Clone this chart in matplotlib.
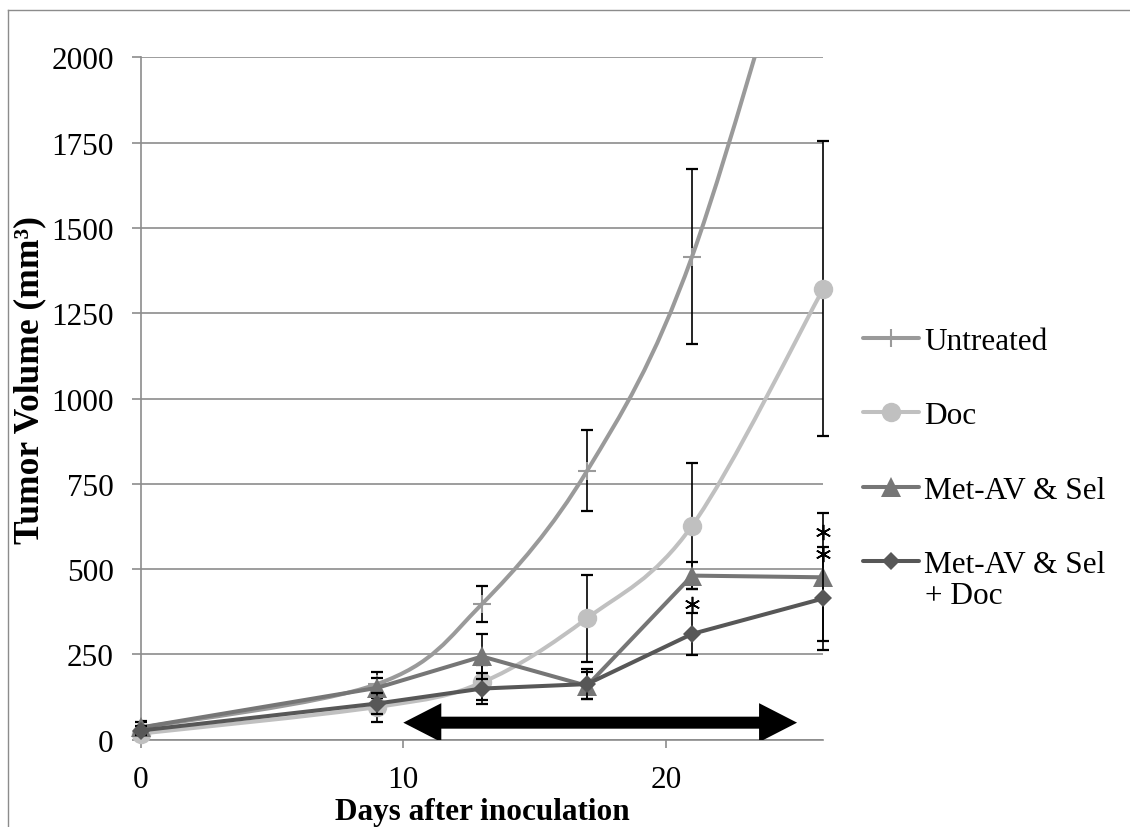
import numpy as np
import matplotlib.pyplot as plt
from matplotlib.path import Path
from matplotlib.patches import PathPatch, Polygon
from matplotlib.lines import Line2D
from matplotlib.transforms import IdentityTransform

plt.rcParams['font.family'] = ['Liberation Serif', 'DejaVu Serif']

# days after inoculation and mean tumour volume (mm3) with error values
days = [0, 9, 13, 17, 21, 26]

untreated = [35, 163, 398, 788, 1416, 2700]
untreated_err = [20, 35, 53, 119, 256, 400]
doc = [18, 96, 168, 356, 627, 1322]
doc_err = [10, 43, 51, 127, 184, 432]
metav_sel = [36, 152, 244, 158, 481, 476]
metav_sel_err = [15, 30, 66, 40, 40, 188]
metav_sel_doc = [27, 106, 150, 163, 310, 414]
metav_sel_doc_err = [12, 30, 45, 44, 62, 152]

labels = ["Untreated", "Doc", "Met-AV & Sel", "Met-AV & Sel"]
last_label_tail = "+ Doc"

# significance marks
sig_days = [21, 26, 26]
sig_vals = [398, 608, 544]

# treatment window
treat_start, treat_end, treat_level = 10, 25, 50

GRID = "#8c8c8c"
FS = 22.5


def smooth_path(x, y):
    # bezier curve through the points, like a spreadsheet "smoothed line"
    pts = np.column_stack([x, y]).astype(float)
    n = len(pts)
    verts = [pts[0]]
    codes = [Path.MOVETO]
    for i in range(n - 1):
        p0 = pts[max(i - 1, 0)]
        p1 = pts[i]
        p2 = pts[i + 1]
        p3 = pts[min(i + 2, n - 1)]
        verts += [p1 + (p2 - p0) / 6, p2 - (p3 - p1) / 6, p2]
        codes += [Path.CURVE4] * 3
    return Path(verts, codes)


fig = plt.figure(figsize=(11.3, 8.28), dpi=100)
ax = fig.add_axes([0.1246, 0.1054, 0.604, 0.8242])

series = [
    (untreated, untreated_err, "#9a9a9a", "+", 13, True, True),
    (doc, doc_err, "#c0c0c0", "o", 14, True, False),
    (metav_sel, metav_sel_err, "#767676", "^", 14, False, False),
    (metav_sel_doc, metav_sel_doc_err, "#575757", "D", 9.5, False, False),
]

handles = []
for k, (vals, err, col, mk, ms, smooth, clip) in enumerate(series):
    z = 3 + 3 * k
    ax.errorbar(days, vals, yerr=err, fmt="none", ecolor="black", elinewidth=1.2,
                capsize=4.3, capthick=1.6, zorder=z, clip_on=clip)
    if smooth:
        ax.add_patch(PathPatch(smooth_path(days, vals), fill=False, edgecolor=col,
                               lw=2.9, zorder=z + 1, capstyle="round"))
    else:
        ax.plot(days, vals, color=col, lw=2.9, zorder=z + 1, clip_on=clip,
                solid_capstyle="round")
    mew = 1.5 if mk == "+" else 0
    ax.plot(days, vals, ls="none", marker=mk, ms=ms, color=col, mew=mew,
            zorder=z + 2, clip_on=clip)
    handles.append(Line2D([], [], color=col, lw=2.9, marker=mk, ms=ms, mew=mew,
                          solid_capstyle="round"))

ax.plot(sig_days, sig_vals, ls="none", marker=(6, 2, 0), ms=11, mew=1.2,
        color="black", zorder=20, clip_on=False)

ax.set_xlim(0, 26)
ax.set_ylim(0, 2000)

# double-headed arrow over the treatment period, built in pixels so the
# heads keep their shape
x0, y0 = ax.transData.transform((treat_start, treat_level))
x1, _ = ax.transData.transform((treat_end, treat_level))
hl, hw, sw = 38, 19.5, 6
arrow = [(x0, y0), (x0 + hl, y0 + hw), (x0 + hl, y0 + sw), (x1 - hl, y0 + sw),
         (x1 - hl, y0 + hw), (x1, y0), (x1 - hl, y0 - hw), (x1 - hl, y0 - sw),
         (x0 + hl, y0 - sw), (x0 + hl, y0 - hw)]
ax.add_patch(Polygon(arrow, closed=True, transform=IdentityTransform(),
                     facecolor="black", edgecolor="none", zorder=25))

ax.set_xticks([0, 10, 20])
ax.set_yticks(np.arange(0, 2001, 250))
ax.yaxis.grid(True, color=GRID, lw=1.2)
ax.set_axisbelow(True)
for s in ["top", "right"]:
    ax.spines[s].set_visible(False)
for s in ["left", "bottom"]:
    ax.spines[s].set_color(GRID)
    ax.spines[s].set_linewidth(1.2)
ax.tick_params(axis="y", direction="out", length=6.5, width=1.2, color=GRID,
               pad=13, labelsize=FS)
ax.tick_params(axis="x", direction="out", length=6, width=1.2, color=GRID,
               pad=12, labelsize=FS)

fig.text(482 / 1130, 1 - 820 / 828, "Days after inoculation", ha="center",
         va="baseline", weight="bold", size=FS)
fig.text(30 / 1130, 1 - 380 / 828, "Tumor Volume (mm³)", rotation=90,
         ha="center", va="center", weight="bold", size=25.5)

ax.legend(handles, labels, loc="upper left", bbox_to_anchor=(0.7637, 0.6039),
          bbox_transform=fig.transFigure, frameon=False, handlelength=1.8,
          handletextpad=0.15, labelspacing=1.45, borderaxespad=0, borderpad=0,
          fontsize=FS)
# second line of the last legend label
fig.text(925 / 1130, 1 - 597 / 828, last_label_tail, ha="left", va="center",
         size=FS)

# outer frame lines
fig.add_artist(Line2D([8 / 1130, 8 / 1130], [0, 1 - 11 / 828],
                      transform=fig.transFigure, color=GRID, lw=1))
fig.add_artist(Line2D([8 / 1130, 1], [1 - 11 / 828, 1 - 11 / 828],
                      transform=fig.transFigure, color=GRID, lw=1))

fig.savefig("out.png", dpi=100)
